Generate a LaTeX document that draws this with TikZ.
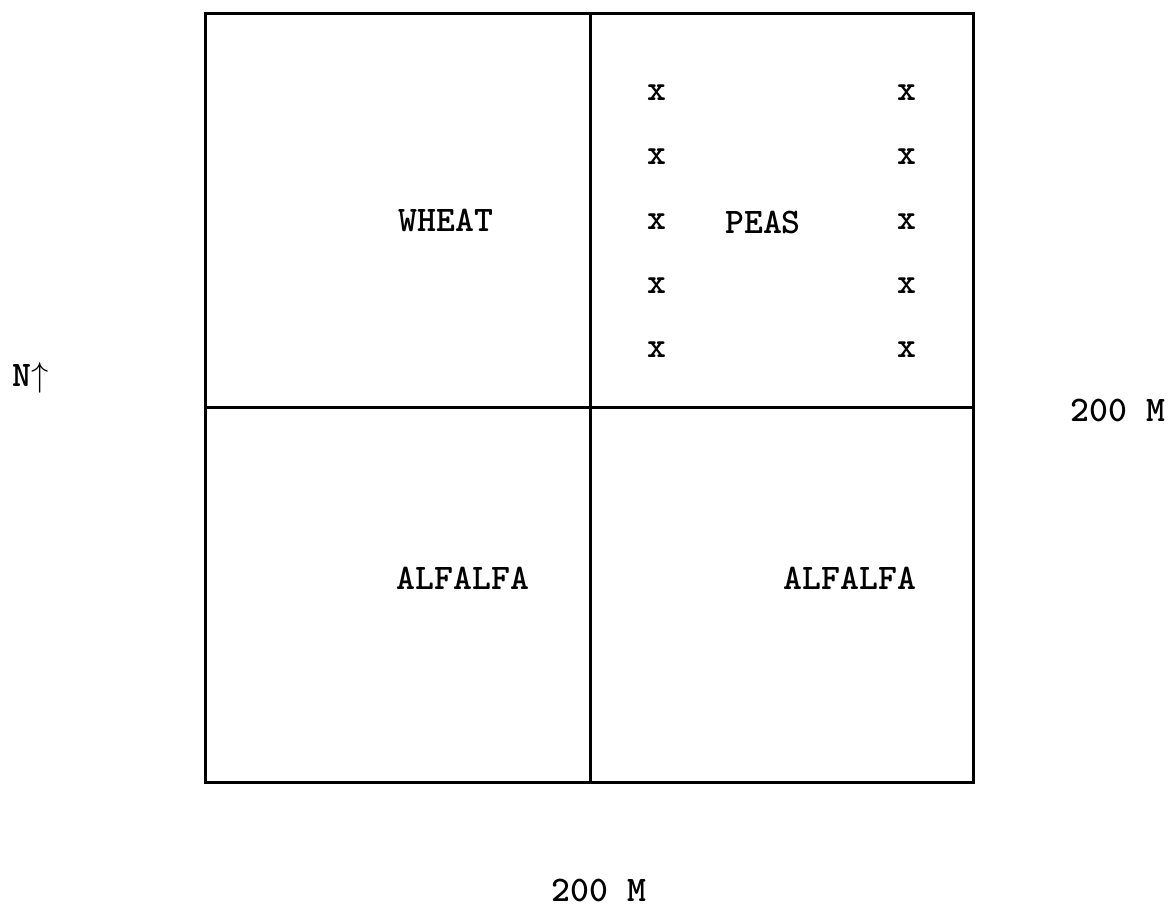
\documentclass[tikz,border=0pt]{standalone}
\usepackage{fontspec}
\tikzset{
  field/.style={line width=1.5pt},
  crop/.style={font=\fontsize{18}{20}\ttfamily\bfseries, inner sep=0pt},
}
\begin{document}
\begin{tikzpicture}[x=0.5pt, y=-0.5pt]
    \useasboundingbox (0,0) rectangle (1171,907);
    % Draw the field and its quarters
    \draw[field] (205,13) rectangle (973,782);
    \draw[field] (590,13) -- (590,782);
    \draw[field] (205,407) -- (973,407);

    % Label the crops
    \node[crop] (wheat) at (446,220) {WHEAT};
    \node[crop] (peas) at (763,222) {PEAS};
    \node[crop] (alfalfaW) at (463,578) {ALFALFA};
    \node[crop] (alfalfaE) at (850,578) {ALFALFA};

    % Rows of x marks
    \foreach \r [count=\i] in {93,157,222,286,350} {
        \node[crop] (xw\i) at (657,\r) {x};
        \node[crop] (xe\i) at (907,\r) {x};
    }

    % Scale and north
    \node[crop, anchor=west] (north) at (12,378) {N$\uparrow$};
    \node[crop] (sizeE) at (1118,410) {200 M};
    \node[crop] (sizeS) at (599,890) {200 M};
\end{tikzpicture}
\end{document}
